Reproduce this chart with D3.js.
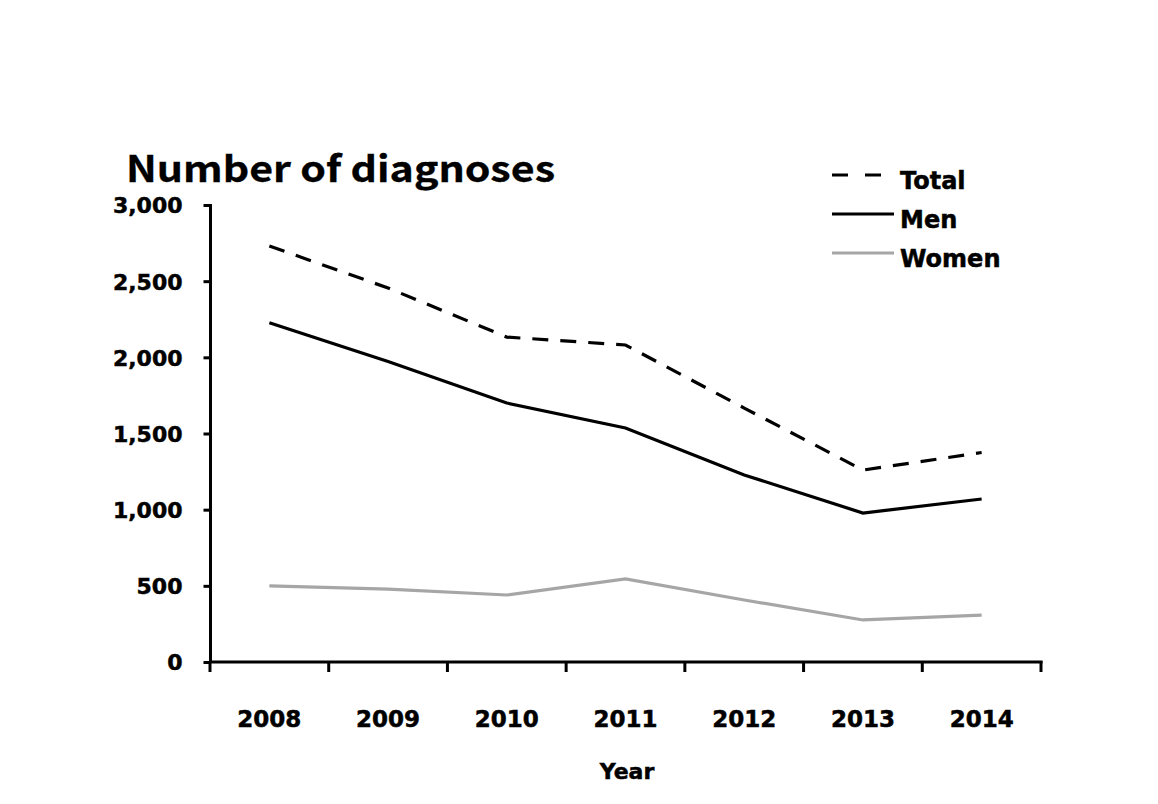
<!DOCTYPE html>
<html>
<head>
<meta charset="utf-8">
<script src="https://cdn.jsdelivr.net/npm/d3@7"></script>
<style>
  html, body { margin: 0; padding: 0; background: #fff; }
  svg { display: block; }
  text { font-family: "DejaVu Sans", sans-serif; font-weight: bold; fill: #000; stroke: #000; stroke-width: 0.5px; }
</style>
</head>
<body>
<svg id="chart" width="1158" height="804"></svg>
<script>
const years = ["2008", "2009", "2010", "2011", "2012", "2013", "2014"];
const totalValues = [2731, 2455, 2133, 2081, 1667, 1260, 1375];
const menValues = [2227, 1972, 1700, 1536, 1228, 978, 1070];
const womenValues = [500, 479, 440, 545, 407, 276, 308];
const yTicks = [0, 500, 1000, 1500, 2000, 2500, 3000];
const seriesNames = ["Total", "Men", "Women"];

const svg = d3.select("#chart");
const x = d3.scaleBand().domain(years).range([210, 1041]).padding(0);
const y = d3.scaleLinear().domain([0, 3000]).range([662, 205]);
const cx = d => x(d) + x.bandwidth() / 2;

// Title
svg.append("text")
  .attr("x", 126).attr("y", 182)
  .style("font-family", "'Noto Sans CJK KR', 'Open Sans', sans-serif")
  .style("font-size", "36px").style("font-weight", 700).style("stroke-width", "0.3px")
  .attr("textLength", 429).attr("lengthAdjust", "spacingAndGlyphs")
  .text("Number of diagnoses");

// Y axis
const yAxis = svg.append("g")
  .attr("transform", "translate(210.5,0)")
  .call(d3.axisLeft(y).tickValues(yTicks).tickFormat(d3.format(",")).tickSize(7).tickPadding(21));
yAxis.select(".domain").attr("stroke", "#000").attr("stroke-width", 3).attr("d", "M0,204V662");
yAxis.selectAll(".tick line").attr("stroke", "#000").attr("stroke-width", 3);
yAxis.selectAll(".tick text").style("font-size", "22px").attr("dy", "0.36em");

// X axis
const xAxis = svg.append("g")
  .attr("transform", "translate(0,662)")
  .call(d3.axisBottom(x).tickSize(0).tickPadding(65));
xAxis.select(".domain").attr("stroke", "#000").attr("stroke-width", 3).attr("d", "M209,0H1042.5");
xAxis.selectAll(".tick text").style("font-size", "23px").attr("dy", "0");
const bounds = years.map(d => x(d)).concat([x.range()[1]]);
xAxis.selectAll("line.bound").data(bounds).enter().append("line")
  .attr("class", "bound")
  .attr("x1", d => d).attr("x2", d => d).attr("y1", -1).attr("y2", 10)
  .attr("stroke", "#000").attr("stroke-width", 3);

svg.append("text")
  .attr("x", 627).attr("y", 779).attr("text-anchor", "middle")
  .style("font-size", "22px")
  .text("Year");

// Lines
const line = d3.line().x((d, i) => cx(years[i])).y(d => y(d));
const series = [
  { name: seriesNames[0], values: totalValues, color: "#000", dash: "16,12" },
  { name: seriesNames[1], values: menValues, color: "#000", dash: null },
  { name: seriesNames[2], values: womenValues, color: "#a6a6a6", dash: null }
];
svg.selectAll("path.series").data(series).enter().append("path")
  .attr("class", "series")
  .attr("d", d => line(d.values))
  .attr("fill", "none")
  .attr("stroke", d => d.color)
  .attr("stroke-width", 3.2)
  .attr("stroke-dasharray", d => d.dash);

// Legend
const legend = svg.append("g");
series.forEach((s, i) => {
  const ly = 175 + i * 39;
  legend.append("line")
    .attr("x1", 832).attr("x2", s.dash ? 881 : 894)
    .attr("y1", ly).attr("y2", ly)
    .attr("stroke", s.color).attr("stroke-width", 3.2)
    .attr("stroke-dasharray", s.dash ? "16,17" : null);
  legend.append("text")
    .attr("x", 900).attr("y", ly + 14)
    .style("font-size", "24px")
    .text(s.name);
});
</script>
</body>
</html>
